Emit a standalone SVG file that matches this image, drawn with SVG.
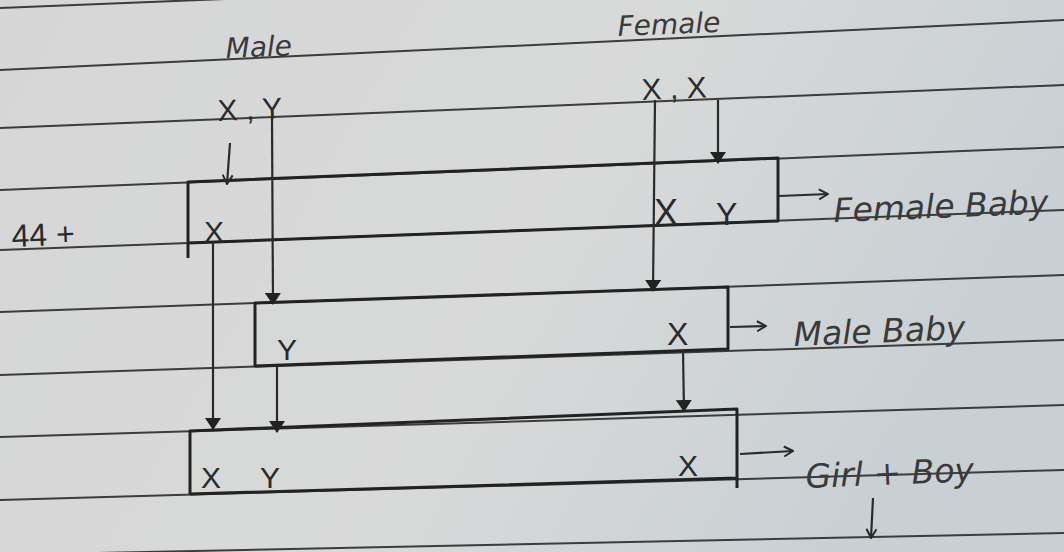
<svg xmlns="http://www.w3.org/2000/svg" width="1064" height="552" viewBox="0 0 1064 552">
<style>
.rule{stroke:#3c3c3c;stroke-width:2;fill:none}
.box{stroke:#222;stroke-width:3;fill:none;stroke-linejoin:round}
.ink{stroke:#2a2a2a;stroke-width:2.2;fill:none}
.t{font-family:"Liberation Sans",Arial,sans-serif;fill:#2a2a2a}
.hand{font-family:"DejaVu Sans","Liberation Sans",sans-serif;fill:#3a3a3a;font-style:italic}
</style>
<defs>
<linearGradient id="paper" x1="0" y1="0" x2="1" y2="0.3">
<stop offset="0" stop-color="#d6d6d6"/>
<stop offset="0.6" stop-color="#d8d9d9"/>
<stop offset="1" stop-color="#c9d0d4"/>
</linearGradient>
<marker id="fill" viewBox="0 0 12 16" refX="11" refY="8" markerWidth="12" markerHeight="16" markerUnits="userSpaceOnUse" orient="auto">
<path d="M0,0 L12,8 L0,16 Z" fill="#222"/>
</marker>
<marker id="open" viewBox="0 0 12 12" refX="11" refY="6" markerWidth="12" markerHeight="12" markerUnits="userSpaceOnUse" orient="auto">
<path d="M2,1 L11,6 L2,11" fill="none" stroke="#2a2a2a" stroke-width="2"/>
</marker>
</defs>
<rect width="1064" height="552" fill="url(#paper)"/>
<g id="ruled-lines">
<line class="rule" x1="0" y1="8" x2="300" y2="-4"/>
<line class="rule" x1="0" y1="70" x2="1064" y2="20"/>
<line class="rule" x1="0" y1="128" x2="1064" y2="85"/>
<line class="rule" x1="0" y1="190" x2="1064" y2="147"/>
<line class="rule" x1="0" y1="250" x2="1064" y2="210"/>
<line class="rule" x1="0" y1="312" x2="1064" y2="275"/>
<line class="rule" x1="0" y1="375" x2="1064" y2="340"/>
<line class="rule" x1="0" y1="437" x2="1064" y2="405"/>
<line class="rule" x1="0" y1="500" x2="1064" y2="470"/>
<line class="rule" x1="0" y1="555" x2="1064" y2="533"/>
</g>
<g id="male-parent">
<text class="hand" x="226" y="58" font-size="28" transform="rotate(-2.3 226 58)">Male</text>
<text class="t" x="218" y="121" font-size="30" transform="rotate(-2.3 218 121)">X , Y</text>
</g>
<g id="female-parent">
<text class="hand" x="618" y="36" font-size="28" transform="rotate(-2.3 618 36)">Female</text>
<text class="t" x="642" y="100" font-size="30" transform="rotate(-2.3 642 100)">X , X</text>
</g>
<g id="prefix">
<text class="t" x="12" y="247" font-size="32" transform="rotate(-2.3 12 247)">44 +</text>
</g>
<g id="box-female-baby">
<path class="box" d="M188,258 L188,182 L778,158 L778,221 L188,243"/>
<text class="t" x="204" y="242" font-size="30">X</text>
<text class="t" x="654" y="225" font-size="36">X</text>
<text class="t" x="716" y="225" font-size="32">Y</text>
</g>
<g id="box-male-baby">
<path class="box" d="M255,367 L255,303 L728,287 L728,349 L255,366"/>
<text class="t" x="277" y="360" font-size="30">Y</text>
<text class="t" x="667" y="345" font-size="32">X</text>
</g>
<g id="box-girl-boy">
<path class="box" d="M190,494 L190,431 L737,409 L737,488 M190,494 L737,478"/>
<text class="t" x="201" y="488" font-size="30">X</text>
<text class="t" x="260" y="488" font-size="30">Y</text>
<text class="t" x="678" y="476" font-size="30">X</text>
</g>
<g id="outcome-labels">
<text class="hand" x="834" y="222" font-size="33" transform="rotate(-2.3 834 222)">Female Baby</text>
<text class="hand" x="794" y="346" font-size="33" transform="rotate(-2.3 794 346)">Male Baby</text>
<text class="hand" x="806" y="488" font-size="33" transform="rotate(-2.3 806 488)">Girl + Boy</text>
</g>
<g id="connectors">
<line class="ink" x1="230" y1="143" x2="227" y2="184" marker-end="url(#open)"/>
<line class="ink" x1="272" y1="118" x2="273" y2="304" marker-end="url(#fill)"/>
<line class="ink" x1="213" y1="243" x2="213" y2="429" marker-end="url(#fill)"/>
<line class="ink" x1="277" y1="365" x2="277" y2="432" marker-end="url(#fill)"/>
<line class="ink" x1="655" y1="100" x2="653" y2="291" marker-end="url(#fill)"/>
<line class="ink" x1="718" y1="100" x2="718" y2="163" marker-end="url(#fill)"/>
<line class="ink" x1="683" y1="350" x2="684" y2="411" marker-end="url(#fill)"/>
<line class="ink" x1="779" y1="196" x2="828" y2="194" marker-end="url(#open)"/>
<line class="ink" x1="730" y1="327" x2="766" y2="326" marker-end="url(#open)"/>
<line class="ink" x1="740" y1="454" x2="793" y2="451" marker-end="url(#open)"/>
<line class="ink" x1="873" y1="498" x2="871" y2="538" marker-end="url(#open)"/>
</g>
</svg>
